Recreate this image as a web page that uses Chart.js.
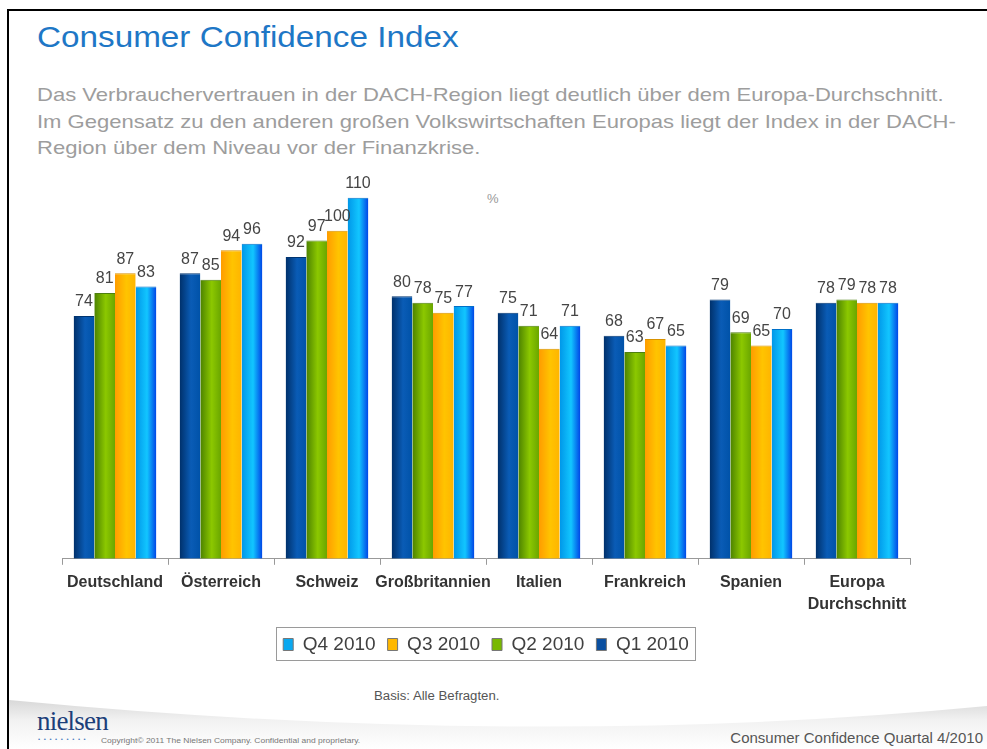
<!DOCTYPE html>
<html>
<head>
<meta charset="utf-8">
<title>Consumer Confidence Index</title>
<script src="https://cdn.jsdelivr.net/npm/chart.js@4.4.1/dist/chart.umd.min.js"></script>
<style>
  html, body { margin: 0; padding: 0; background: #fff; }
  #page { position: relative; width: 987px; height: 749px; overflow: hidden;
          font-family: "Liberation Sans", Arial, sans-serif; }
  #frameTop { position: absolute; left: 7px; top: 9px; right: 0; height: 2px; background: #000; }
  #frameLeft { position: absolute; left: 7px; top: 9px; bottom: 0; width: 2px; background: #000; }
  #title { position: absolute; left: 37px; top: 21px; font-size: 29px; color: #1e77c6; white-space: nowrap;
           transform: scaleX(1.147); transform-origin: 0 0; }
  #subtitle { position: absolute; left: 37px; top: 82px; font-size: 19px; line-height: 26.5px;
              color: #9d9d9d; white-space: nowrap; transform: scaleX(1.16); transform-origin: 0 0; }
  #pct { position: absolute; left: 487px; top: 191px; font-size: 13px; color: #999; }
  #basis { position: absolute; left: 374px; top: 689px; font-size: 12px; color: #555;
           transform: scaleX(1.1); transform-origin: 0 0; }
  #swoosh { position: absolute; left: 9px; top: 690px; }
  #logo { position: absolute; left: 37px; top: 706px; font-family: "Liberation Serif", "DejaVu Serif", serif;
          font-size: 27px; color: #1c3f7a; letter-spacing: -0.8px; }
  #dots { position: absolute; left: 38px; top: 736px; font-size: 6px; color: #4a7cc0; letter-spacing: 3.6px; }
  #copy { position: absolute; left: 101px; top: 736px; font-size: 8px; color: #777;
          transform: scaleX(1.06); transform-origin: 0 0; }
  #footRight { position: absolute; right: 4px; top: 729px; font-size: 15px; color: #555; }
  #chartBox { position: absolute; left: 0; top: 0; width: 987px; height: 749px; }
</style>
</head>
<body>
<div id="page">
  <svg id="swoosh" width="978" height="59">
    <defs>
      <linearGradient id="sw" x1="0" y1="0" x2="0" y2="1">
        <stop offset="0" stop-color="#d8d8d8"/>
        <stop offset="0.4" stop-color="#f1f1f1"/>
        <stop offset="1" stop-color="#ffffff"/>
      </linearGradient>
    </defs>
    <path d="M0 10 Q 520 60 978 16 L 978 59 L 0 59 Z" fill="url(#sw)"/>
  </svg>
  <div id="frameTop"></div>
  <div id="frameLeft"></div>
  <div id="title">Consumer Confidence Index</div>
  <div id="subtitle">Das Verbrauchervertrauen in der DACH-Region liegt deutlich über dem Europa-Durchschnitt.<br>Im Gegensatz zu den anderen großen Volkswirtschaften Europas liegt der Index in der DACH-<br>Region über dem Niveau vor der Finanzkrise.</div>
  <div id="pct">%</div>
  <div id="basis">Basis: Alle Befragten.</div>
  <div id="logo">nielsen</div>
  <div id="dots">•••••••••</div>
  <div id="copy">Copyright© 2011 The Nielsen Company. Confidential and proprietary.</div>
  <div id="footRight">Consumer Confidence Quartal 4/2010</div>
  <div id="chartBox"><canvas id="cciChart" width="987" height="749"></canvas></div>
</div>

<script>
// =========================
// Data
// =========================

const categories = ["Deutschland", "Österreich", "Schweiz", "Großbritannien",
                    "Italien", "Frankreich", "Spanien", ["Europa", "Durchschnitt"]];
const seriesNames = ["Q1 2010", "Q2 2010", "Q3 2010", "Q4 2010"];

const q1Values = [74, 87, 92, 80, 75, 68, 79, 78];
const q2Values = [81, 85, 97, 78, 71, 63, 69, 79];
const q3Values = [87, 94, 100, 75, 64, 67, 65, 78];
const q4Values = [83, 96, 110, 77, 71, 65, 70, 78];

// =========================
// Styling
// =========================

const CAT_PCT = 0.78;
// left edge, highlight, right edge
const shades = [
  ["#00306a", "#0a5cb6", "#0052a8"],
  ["#4c8200", "#8cc800", "#6aa600"],
  ["#ff9c00", "#ffc400", "#ffb400"],
  ["#0096e8", "#12c6ff", "#0044e6"]
];
const solidColors = ["#0a4fa0", "#78b800", "#ffb800", "#0aa8f0"];
const edgeColors = ["#003470", "#4e7f10", "#d89200", "#0070c8"];

function barFill(ctx) {
  const s = shades[ctx.datasetIndex];
  const chart = ctx.chart;
  const xs = chart.scales.x;
  if (!chart.chartArea || !xs || ctx.type !== "data") return s[1];
  const groupW = (xs.width / categories.length) * CAT_PCT;
  const barW = groupW / seriesNames.length;
  const left = xs.getPixelForValue(ctx.dataIndex) - groupW / 2 + ctx.datasetIndex * barW;
  const g = chart.ctx.createLinearGradient(left, 0, left + barW, 0);
  g.addColorStop(0, s[0]);
  g.addColorStop(0.55, s[1]);
  g.addColorStop(1, s[2]);
  return g;
}

// =========================
// Plugins
// =========================

const valueLabels = {
  id: "valueLabels",
  afterDatasetsDraw(chart) {
    const { ctx } = chart;
    ctx.save();
    ctx.font = '16px "Liberation Sans", Arial, sans-serif';
    ctx.fillStyle = "#454545";
    ctx.textAlign = "center";
    ctx.textBaseline = "bottom";
    chart.data.datasets.forEach((ds, i) => {
      chart.getDatasetMeta(i).data.forEach((bar, j) => {
        ctx.fillText(ds.data[j], bar.x, bar.y - 6);
      });
    });
    ctx.restore();
  }
};

const legendFrame = {
  id: "legendFrame",
  afterDraw(chart) {
    const boxes = chart.legend && chart.legend.legendHitBoxes;
    if (!boxes || !boxes.length) return;
    const left = Math.min(...boxes.map(b => b.left)) - 7;
    const right = Math.max(...boxes.map(b => b.left + b.width)) + 6;
    const top = Math.min(...boxes.map(b => b.top)) - 8;
    const bottom = Math.max(...boxes.map(b => b.top + b.height)) + 6;
    const { ctx } = chart;
    ctx.save();
    ctx.strokeStyle = "#9a9a9a";
    ctx.lineWidth = 1;
    ctx.strokeRect(Math.round(left) + 0.5, Math.round(top) + 0.5, Math.round(right - left), Math.round(bottom - top));
    ctx.restore();
  }
};

// =========================
// Chart
// =========================

const valueSets = [q1Values, q2Values, q3Values, q4Values];

const cciChart = new Chart(document.getElementById("cciChart"), {
  type: "bar",
  data: {
    labels: categories,
    datasets: seriesNames.map((name, i) => ({
      label: name,
      data: valueSets[i],
      backgroundColor: barFill,
      borderColor: edgeColors[i],
      borderWidth: { top: 1, left: 0, right: 0, bottom: 0 },
      categoryPercentage: CAT_PCT,
      barPercentage: 1.0
    }))
  },
  options: {
    responsive: false,
    animation: false,
    layout: { padding: { left: 62, right: 77, top: 165, bottom: 85 } },
    scales: {
      x: {
        grid: { display: true, drawOnChartArea: false, drawTicks: true, tickLength: 6, color: "#999" },
        border: { display: true, color: "#999" },
        ticks: {
          autoSkip: false, maxRotation: 0, minRotation: 0, padding: 7, color: "#333",
          font: { family: '"Liberation Sans", Arial, sans-serif', size: 16, weight: "bold", lineHeight: 1.35 }
        },
        afterFit(scale) { scale.height += 1; }
      },
      y: { display: false, min: 0, max: 120 }
    },
    plugins: {
      tooltip: { enabled: false },
      legend: {
        position: "bottom",
        reverse: true,
        labels: {
          boxWidth: 10,
          boxHeight: 12,
          padding: 12,
          color: "#404040",
          font: { family: '"Liberation Sans", Arial, sans-serif', size: 19 },
          generateLabels(chart) {
            const items = Chart.defaults.plugins.legend.labels.generateLabels(chart);
            items.forEach(it => {
              it.fillStyle = solidColors[it.datasetIndex];
              it.strokeStyle = "#777";
              it.lineWidth = 1;
            });
            return items;
          }
        }
      }
    }
  },
  plugins: [valueLabels, legendFrame]
});
</script>
</body>
</html>
